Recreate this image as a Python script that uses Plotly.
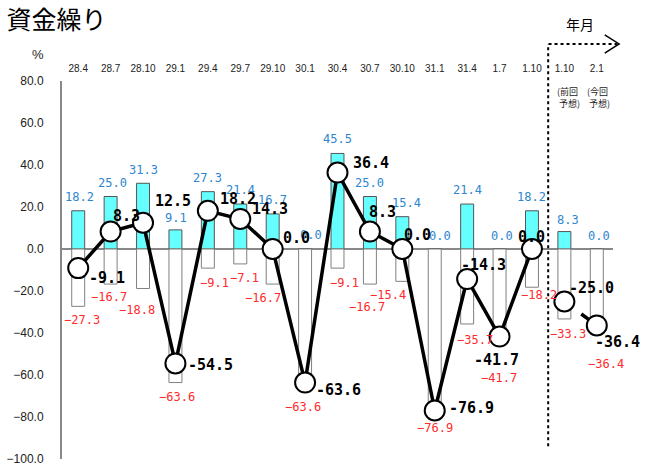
import plotly.graph_objects as go

# survey periods (last two are forecasts)
periods = ['28.4', '28.7', '28.10', '29.1', '29.4', '29.7', '29.10', '30.1', '30.4',
           '30.7', '30.10', '31.1', '31.4', '1.7', '1.10', '1.10', '2.1']
easy = [18.2, 25.0, 31.3, 9.1, 27.3, 21.4, 16.7, 0.0, 45.5, 25.0, 15.4, 0.0,
        21.4, 0.0, 18.2, 8.3, 0.0]           # 楽である (%)
tight = [-27.3, -16.7, -18.8, -63.6, -9.1, -7.1, -16.7, -63.6, -9.1, -16.7, -15.4,
         -76.9, -35.7, -41.7, -18.2, -33.3, -36.4]  # 苦しい (%)
di = [-9.1, 8.3, 12.5, -54.5, 18.2, 14.3, 0.0, -63.6, 36.4, 8.3, 0.0, -76.9,
      -14.3, -41.7, 0.0, -25.0, -36.4]        # DI
n_actual = 15

x = list(range(len(periods)))
JP = "Noto Sans CJK JP"
MONO = "DejaVu Sans Mono"

fig = go.Figure()
fig.add_trace(go.Bar(x=x, y=easy, width=0.4,
                     marker=dict(color='#66FFFF', line=dict(color='#555555', width=1))))
fig.add_trace(go.Bar(x=x, y=tight, width=0.4,
                     marker=dict(color='white', line=dict(color='#808080', width=1))))
fig.add_trace(go.Scatter(x=x[:n_actual], y=di[:n_actual], mode='lines+markers',
                         line=dict(color='black', width=3.5),
                         marker=dict(size=20, color='white', line=dict(color='black', width=2))))
fig.add_trace(go.Scatter(x=x[n_actual:], y=di[n_actual:], mode='lines+markers',
                         line=dict(color='black', width=3.5, dash='dash'),
                         marker=dict(size=20, color='white', line=dict(color='black', width=2))))

# label offsets in px (dx, dy)
blue_off = [(1, 14), (2, 14), (0, 13), (1, 12), (0, 14), (0, 14), (0, 14), (6, 14), (0, 14),
            (0, 14), (4, 14), (5, 13), (0, 14), (2, 13), (0, 14), (4, 12), (2, 13)]
red_off = [(4, -14), (-2, -13), (-6, -22), (2, -14), (7, -15), (4, -14), (-10, -14), (-2, -24),
           (7, -15), (-3, -23), (-14, -14), (0, -18), (8, -16), (-1, -41), (7, -8), (4, -15),
           (9, -39)]
blk_off = [(29, -10), (16, 16), (30, 22), (35, -2), (30, 12), (30, 10), (24, 11), (33, -7),
           (33, 10), (13, 20), (15, 14), (37, 2), (16, 14), (-3, -23), (0, 12), (27, 14),
           (21, -17)]

ann = []
for i in x:
    ann.append(dict(x=i, y=easy[i], text=f'{easy[i]:.1f}', showarrow=False,
                    xshift=blue_off[i][0], yshift=blue_off[i][1],
                    font=dict(family=MONO, size=12, color='#2E86D0')))
    ann.append(dict(x=i, y=tight[i], text=f'{tight[i]:.1f}'.replace('-', '−'), showarrow=False,
                    xshift=red_off[i][0], yshift=red_off[i][1],
                    font=dict(family=MONO, size=12, color='#FF2A2A')))
for i in x:
    ann.append(dict(x=i, y=di[i], text=f'<b>{di[i]:.1f}</b>', showarrow=False,
                    xshift=blk_off[i][0], yshift=blk_off[i][1],
                    font=dict(family=MONO, size=15, color='black')))

ann.append(dict(x=15, y=72, text='(前回<br> 予想)', showarrow=False, xshift=4,
                align='left', font=dict(family=JP, size=9, color='#222')))
ann.append(dict(x=16, y=72, text='(今回<br> 予想)', showarrow=False, xshift=2,
                align='left', font=dict(family=JP, size=9, color='#222')))
ann.append(dict(xref='paper', yref='paper', x=-0.0436, y=1.069, text='%', showarrow=False,
                xanchor='center', yanchor='middle',
                font=dict(family='Liberation Sans', size=13, color='#222')))
ann.append(dict(xref='paper', yref='paper', x=0.940, y=1.151, text='年月', showarrow=False,
                xanchor='center', yanchor='middle',
                font=dict(family=JP, size=14, color='black')))

shapes = [
    dict(type='line', xref='x', yref='paper', x0=14.5, x1=14.5, y0=0.034, y1=1.098,
         line=dict(color='black', width=2, dash='dot')),
    dict(type='line', xref='paper', yref='paper', x0=0.883, x1=1.007, y0=1.098, y1=1.098,
         line=dict(color='black', width=2, dash='dot')),
    dict(type='path', xref='paper', yref='paper', path='M 0.985,1.122 L 1.011,1.098 L 0.985,1.074',
         line=dict(color='black', width=1.5)),
]

fig.update_layout(
    width=651, height=469,
    margin=dict(l=62, r=38, t=81, b=10, autoexpand=False),
    paper_bgcolor='white', plot_bgcolor='white',
    barmode='relative', showlegend=False,
    title=dict(text='資金繰り', x=0.01, xanchor='left', y=0.957, yanchor='middle',
               font=dict(family=JP, size=25, color='black')),
    xaxis=dict(side='top', tickvals=x, ticktext=periods, range=[-0.5, 16.5],
               showgrid=False, zeroline=False, showline=False, ticks='',
               automargin=False, ticklabelstandoff=6,
               tickfont=dict(family='Liberation Sans', size=10, color='#222')),
    yaxis=dict(range=[-100, 80], dtick=20, tickformat='.1f', showgrid=False,
               zeroline=True, zerolinecolor='#888888', zerolinewidth=2,
               showline=True, linecolor='#888888', linewidth=2, ticks='',
               automargin=False, ticklabelstandoff=14,
               tickfont=dict(family='Liberation Sans', size=12, color='#222')),
    annotations=ann, shapes=shapes,
)

fig.write_html("out.html", config={'displayModeBar': False},
               post_script="document.body.style.margin='0';")
